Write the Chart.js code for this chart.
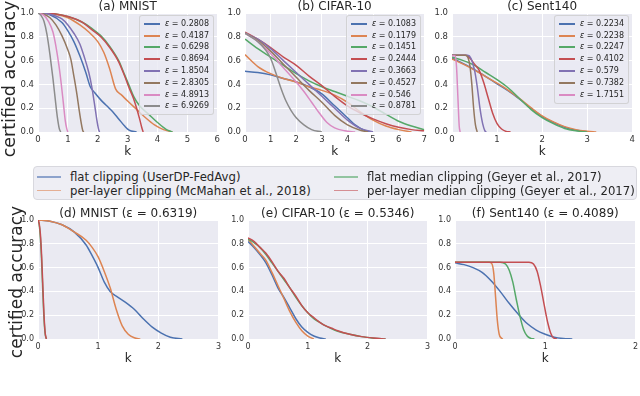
<!DOCTYPE html>
<html>
<head>
<meta charset="utf-8">
<script src="https://cdn.jsdelivr.net/npm/chart.js@4.4.1/dist/chart.umd.min.js"></script>
<style>
html, body { margin: 0; padding: 0; background: #fff; overflow: hidden; }
#fig { position: relative; width: 640px; height: 396px; font-family: 'DejaVu Sans', sans-serif; color: #262626; }
.panel { position: absolute; }
.ylab { position: absolute; z-index: 4; white-space: nowrap; line-height: 1; transform: translate(-50%, -50%) rotate(-90deg); }
.leg { position: absolute; z-index: 5; background: rgba(234,234,242,0.8); border: 1px solid rgba(204,204,204,0.8);
       border-radius: 3px; padding: 2px 4px; font-size: 8px; line-height: 1; }
.leg .row { height: 11.8px; display: flex; align-items: center; white-space: nowrap; }
.leg .sw { width: 16px; height: 2px; margin-right: 5px; flex: none; }
.bigleg { position: absolute; z-index: 5; left: 33px; top: 166px; width: 604px; height: 34px; box-sizing: border-box;
          background: #EEEEF4; border: 1px solid #d8d8de; border-radius: 4px; font-size: 11.7px; }
.bigleg .it { position: absolute; height: 14px; display: flex; align-items: center; white-space: nowrap; }
.bigleg .sw { width: 24px; height: 1.5px; opacity: 0.6; margin-right: 9px; flex: none; }
</style>
</head>
<body>
<div id="fig"></div>
<script>
// tick labels
const accTicks = ['0.0', '0.2', '0.4', '0.6', '0.8', '1.0'];

// (a) MNIST - one curve per epsilon, points are [k, certified accuracy]
const mnistEps = ['0.2808', '0.4187', '0.6298', '0.8694', '1.8504', '2.8305', '4.8913', '6.9269'];
const mnistCurves = [
    [[0,1],[0.4,0.985],[0.8,0.92],[1.0,0.85],[1.2,0.76],[1.4,0.64],[1.6,0.5],[1.75,0.38],[1.9,0.33],[2.1,0.27],[2.3,0.22],[2.5,0.17],[2.7,0.11],[2.9,0.05],[3.05,0.015],[3.3,0]],
    [[0,1],[0.5,0.99],[1.0,0.96],[1.4,0.9],[1.7,0.84],[2.0,0.76],[2.2,0.67],[2.4,0.53],[2.6,0.36],[2.8,0.31],[3.0,0.26],[3.3,0.19],[3.6,0.12],[3.9,0.06],[4.2,0.02],[4.5,0]],
    [[0,1],[0.5,0.995],[1.0,0.97],[1.5,0.92],[1.8,0.87],[2.1,0.81],[2.4,0.72],[2.7,0.6],[2.9,0.48],[3.05,0.39],[3.2,0.3],[3.4,0.22],[3.7,0.15],[4.0,0.08],[4.3,0.02],[4.5,0]],
    [[0,1],[0.5,0.995],[1.0,0.97],[1.5,0.92],[1.8,0.86],[2.1,0.8],[2.4,0.71],[2.7,0.59],[2.9,0.47],[3.05,0.37],[3.2,0.28],[3.3,0.2],[3.4,0.11],[3.47,0.04],[3.52,0]],
    [[0,1],[0.4,0.99],[0.8,0.95],[1.0,0.9],[1.2,0.83],[1.4,0.74],[1.55,0.63],[1.7,0.5],[1.8,0.38],[1.9,0.22],[1.97,0.1],[2.03,0.02],[2.06,0]],
    [[0,1],[0.2,0.99],[0.4,0.96],[0.6,0.9],[0.8,0.81],[1.0,0.69],[1.1,0.61],[1.2,0.47],[1.3,0.32],[1.38,0.18],[1.45,0.07],[1.5,0.01],[1.53,0]],
    [[0,1],[0.2,0.98],[0.35,0.93],[0.5,0.84],[0.6,0.72],[0.7,0.56],[0.78,0.4],[0.85,0.24],[0.91,0.1],[0.96,0.03],[1.0,0]],
    [[0,1],[0.1,0.98],[0.2,0.93],[0.3,0.82],[0.4,0.65],[0.5,0.45],[0.58,0.27],[0.65,0.12],[0.71,0.03],[0.76,0]]
];

// (b) CIFAR-10
const cifarEps = ['0.1083', '0.1179', '0.1451', '0.2444', '0.3663', '0.4527', '0.546', '0.8781'];
const cifarCurves = [
    [[0,0.51],[0.5,0.5],[1,0.48],[1.5,0.45],[2,0.42],[2.5,0.38],[3,0.32],[3.5,0.22],[4,0.12],[4.3,0.06],[4.7,0.01],[5,0]],
    [[0,0.65],[0.5,0.55],[1,0.49],[1.5,0.45],[2,0.42],[2.5,0.38],[3,0.35],[3.5,0.31],[4,0.25],[4.5,0.17],[5,0.1],[5.5,0.05],[6,0.02],[6.5,0]],
    [[0,0.78],[0.5,0.7],[1,0.63],[1.5,0.56],[2,0.49],[2.5,0.43],[3,0.38],[3.5,0.34],[4,0.3],[4.5,0.26],[5,0.21],[5.5,0.15],[6,0.09],[6.5,0.05],[7,0.02]],
    [[0,0.84],[0.5,0.78],[1,0.71],[1.5,0.63],[2,0.56],[2.5,0.47],[3,0.39],[3.5,0.3],[4,0.22],[4.5,0.16],[5,0.11],[5.5,0.07],[6,0.04],[6.5,0.02],[7,0.01]],
    [[0,0.83],[0.5,0.78],[1,0.7],[1.5,0.6],[2,0.5],[2.5,0.4],[3,0.3],[3.5,0.2],[4,0.1],[4.5,0.03],[5,0]],
    [[0,0.83],[0.5,0.77],[1,0.68],[1.5,0.57],[2,0.46],[2.5,0.35],[3,0.25],[3.5,0.14],[4,0.06],[4.5,0.015],[4.8,0]],
    [[0,0.83],[0.5,0.76],[1,0.66],[1.5,0.54],[2,0.42],[2.3,0.34],[2.6,0.25],[2.9,0.16],[3.2,0.08],[3.5,0.035],[3.9,0.01],[4.3,0]],
    [[0,0.83],[0.5,0.76],[0.8,0.69],[1.0,0.62],[1.2,0.5],[1.4,0.37],[1.6,0.26],[1.8,0.18],[2.0,0.12],[2.3,0.06],[2.6,0.02],[3.0,0]]
];

// (c) Sent140
const sentEps = ['0.2234', '0.2238', '0.2247', '0.4102', '0.579', '0.7382', '1.7151'];
const sentCurves = [
    [[0,0.62],[0.25,0.575],[0.5,0.525],[0.75,0.465],[1,0.405],[1.25,0.345],[1.5,0.275],[1.75,0.2],[2,0.13],[2.25,0.08],[2.5,0.04],[2.75,0.015],[3,0.003],[3.1,0]],
    [[0,0.615],[0.25,0.57],[0.5,0.52],[0.75,0.465],[1,0.41],[1.25,0.35],[1.5,0.28],[1.75,0.205],[2,0.135],[2.25,0.085],[2.5,0.045],[2.75,0.02],[3,0.007],[3.2,0]],
    [[0,0.63],[0.25,0.6],[0.5,0.56],[0.75,0.5],[1,0.44],[1.25,0.37],[1.5,0.28],[1.75,0.19],[2,0.12],[2.25,0.07],[2.5,0.03],[2.75,0.01],[3,0]],
    [[0,0.645],[0.3,0.645],[0.4,0.62],[0.5,0.57],[0.6,0.52],[0.7,0.42],[0.8,0.29],[0.9,0.16],[1.0,0.07],[1.1,0.025],[1.2,0.005],[1.3,0]],
    [[0,0.645],[0.35,0.645],[0.42,0.62],[0.5,0.52],[0.56,0.38],[0.62,0.2],[0.68,0.07],[0.73,0.01],[0.76,0]],
    [[0,0.645],[0.3,0.645],[0.36,0.62],[0.4,0.55],[0.44,0.4],[0.48,0.2],[0.52,0.06],[0.56,0]],
    [[0,0.64],[0.07,0.64],[0.1,0.55],[0.13,0.3],[0.16,0.05],[0.18,0]]
];

// bottom row: one curve per clipping method
const methods = ['flat clipping (UserDP-FedAvg)', 'per-layer clipping (McMahan et al., 2018)',
                 'flat median clipping (Geyer et al., 2017)', 'per-layer median clipping (Geyer et al., 2017)'];

// (d) MNIST, eps = 0.6319
const mnistMethodCurves = [
    [[0,1],[0.2,0.99],[0.4,0.96],[0.6,0.9],[0.8,0.79],[0.9,0.7],[1.0,0.6],[1.1,0.48],[1.2,0.4],[1.3,0.36],[1.45,0.31],[1.6,0.25],[1.75,0.17],[1.9,0.1],[2.05,0.05],[2.2,0.015],[2.4,0]],
    [[0,1],[0.2,0.99],[0.4,0.96],[0.6,0.9],[0.8,0.83],[0.9,0.77],[1.0,0.69],[1.1,0.57],[1.2,0.43],[1.3,0.25],[1.4,0.11],[1.5,0.04],[1.6,0.01],[1.7,0]],
    [[0,1],[0.02,0.96],[0.04,0.85],[0.06,0.66],[0.08,0.4],[0.1,0.17],[0.12,0.04],[0.14,0]],
    [[0,1],[0.02,0.97],[0.04,0.88],[0.06,0.7],[0.08,0.45],[0.1,0.2],[0.12,0.05],[0.14,0]]
];

// (e) CIFAR-10, eps = 0.5346
const cifarMethodCurves = [
    [[0,0.82],[0.1,0.77],[0.2,0.71],[0.3,0.64],[0.4,0.54],[0.5,0.43],[0.6,0.35],[0.7,0.26],[0.8,0.17],[0.9,0.1],[1.0,0.055],[1.1,0.025],[1.2,0.008],[1.3,0]],
    [[0,0.84],[0.1,0.78],[0.2,0.72],[0.3,0.66],[0.4,0.56],[0.5,0.45],[0.6,0.34],[0.7,0.23],[0.8,0.14],[0.9,0.07],[1.0,0.025],[1.1,0]],
    [[0,0.84],[0.1,0.81],[0.2,0.77],[0.3,0.71],[0.4,0.64],[0.5,0.57],[0.6,0.5],[0.7,0.43],[0.8,0.35],[0.9,0.28],[1.0,0.22],[1.1,0.17],[1.2,0.14],[1.3,0.11],[1.4,0.085],[1.5,0.065],[1.7,0.04],[1.9,0.02],[2.1,0.007],[2.3,0]],
    [[0,0.85],[0.1,0.82],[0.2,0.77],[0.3,0.72],[0.4,0.65],[0.5,0.57],[0.6,0.51],[0.7,0.43],[0.8,0.36],[0.9,0.28],[1.0,0.22],[1.1,0.18],[1.2,0.14],[1.3,0.11],[1.4,0.09],[1.5,0.07],[1.7,0.04],[1.9,0.02],[2.1,0.008],[2.3,0]]
];

// (f) Sent140, eps = 0.4089
const sentMethodCurves = [
    [[0,0.64],[0.1,0.625],[0.2,0.6],[0.3,0.56],[0.4,0.49],[0.5,0.4],[0.6,0.3],[0.7,0.21],[0.8,0.13],[0.9,0.075],[1.0,0.04],[1.1,0.015],[1.2,0.004],[1.3,0]],
    [[0,0.645],[0.38,0.645],[0.41,0.63],[0.43,0.55],[0.45,0.35],[0.47,0.15],[0.49,0.04],[0.51,0.01],[0.53,0]],
    [[0,0.645],[0.5,0.645],[0.56,0.63],[0.6,0.58],[0.64,0.48],[0.68,0.33],[0.72,0.19],[0.76,0.08],[0.8,0.025],[0.84,0.005],[0.88,0]],
    [[0,0.645],[0.82,0.645],[0.87,0.63],[0.91,0.57],[0.95,0.44],[0.99,0.28],[1.03,0.13],[1.06,0.05],[1.09,0.01],[1.13,0]]
];

// seaborn "deep" palette
const deep = ['#4C72B0', '#DD8452', '#55A868', '#C44E52', '#8172B3', '#937860', '#DA8BC3', '#8C8C8C'];

// Panel layout: plot rect [left, top, right, bottom] in page pixels
const panels = [
    { title: '(a) MNIST', plot: [38, 13, 218, 132], xMax: 6, curves: mnistCurves, eps: mnistEps },
    { title: '(b) CIFAR-10', plot: [245, 13, 425, 132], xMax: 7, curves: cifarCurves, eps: cifarEps },
    { title: '(c) Sent140', plot: [452, 13, 633, 132], xMax: 4, curves: sentCurves, eps: sentEps },
    { title: '(d) MNIST (ε = 0.6319)', plot: [38, 220, 219, 339], xMax: 3, curves: mnistMethodCurves },
    { title: '(e) CIFAR-10 (ε = 0.5346)', plot: [248, 220, 428, 339], xMax: 3, curves: cifarMethodCurves },
    { title: '(f) Sent140 (ε = 0.4089)', plot: [455, 220, 636, 339], xMax: 2, curves: sentMethodCurves }
];

const plotBg = {
    id: 'plotBg',
    beforeDraw(chart) {
        const { ctx, chartArea: a } = chart;
        ctx.save();
        ctx.fillStyle = '#EAEAF2';
        ctx.fillRect(a.left, a.top, a.right - a.left, a.bottom - a.top);
        ctx.restore();
    }
};

Chart.defaults.font.family = "'DejaVu Sans', sans-serif";

function drawPanel(p, row) {
    const fig = document.getElementById('fig');
    const [pl, pt, pr, pb] = p.plot;
    const padL = 30, padR = 5, padB = 26, titleH = 12;
    const canvasTop = row === 0 ? 0 : 200;
    const left = pl - padL;
    const width = pr + padR - left;
    const height = pb + padB - canvasTop;
    const tickSize = row === 0 ? 8.5 : 8;

    const canvas = document.createElement('canvas');
    canvas.className = 'panel';
    canvas.style.left = left + 'px';
    canvas.style.top = canvasTop + 'px';
    canvas.width = width;
    canvas.height = height;
    fig.appendChild(canvas);

    const n = p.curves.length;
    new Chart(canvas, {
        type: 'line',
        data: {
            datasets: p.curves.map((c, i) => ({
                data: c.map(([x, y]) => ({ x, y })),
                borderColor: deep[i],
                borderWidth: 1.5,
                pointRadius: 0,
                fill: false,
                cubicInterpolationMode: 'monotone',
                order: n - i
            }))
        },
        options: {
            responsive: false,
            animation: false,
            events: [],
            devicePixelRatio: 1,
            layout: { padding: { left: 0, right: padR, bottom: 0, top: pt - titleH - canvasTop } },
            plugins: {
                legend: { display: false },
                tooltip: { enabled: false },
                title: {
                    display: true, text: p.title, fullSize: false, color: '#262626',
                    font: { size: 12, weight: 'normal', lineHeight: 1 }, padding: 0
                }
            },
            scales: {
                x: {
                    type: 'linear', min: 0, max: p.xMax,
                    afterFit: s => { s.height = padB; },
                    ticks: { stepSize: 1, font: { size: tickSize }, color: '#333', padding: 3, maxRotation: 0, autoSkip: false },
                    grid: { color: '#fff', lineWidth: 1, drawTicks: false },
                    border: { display: false },
                    title: { display: true, text: 'k', color: '#262626', font: { size: 12, lineHeight: 1 }, padding: 0 }
                },
                y: {
                    min: 0, max: 1,
                    afterFit: s => { s.width = padL; },
                    ticks: { stepSize: 0.2, font: { size: tickSize }, color: '#333', padding: 4,
                             callback: (v, i) => accTicks[i] },
                    grid: { color: '#fff', lineWidth: 1, drawTicks: false },
                    border: { display: false }
                }
            }
        },
        plugins: [plotBg]
    });

    if (p.eps) panelLegend(p);
}

// legend box in the upper right corner of a panel
function panelLegend(p) {
    const box = document.createElement('div');
    box.className = 'leg';
    box.style.right = (640 - (p.plot[2] - 4)) + 'px';
    box.style.top = (p.plot[1] + 2) + 'px';
    box.innerHTML = p.eps.map((e, i) => `
        <div class="row"><span class="sw" style="background:${deep[i]}"></span><span><i>ε</i> = ${e}</span></div>
    `).join('');
    document.getElementById('fig').appendChild(box);
}

// shared legend between the two rows (two columns)
function methodLegend() {
    const box = document.createElement('div');
    box.className = 'bigleg';
    const cols = [3, 300], rows = [10, 23.5];
    box.innerHTML = methods.map((m, i) => {
        const c = Math.floor(i / 2), r = i % 2;
        return `<div class="it" style="left:${cols[c]}px;top:${rows[r] - 7}px">
            <span class="sw" style="background:${deep[i]}"></span><span>${m}</span></div>`;
    }).join('');
    document.getElementById('fig').appendChild(box);
}

// y axis label, one per row
function yLabel(cx, cy, size) {
    const el = document.createElement('div');
    el.className = 'ylab';
    el.style.left = cx + 'px';
    el.style.top = cy + 'px';
    el.style.fontSize = size + 'px';
    el.textContent = 'certified accuracy';
    document.getElementById('fig').appendChild(el);
}

panels.forEach((p, i) => drawPanel(p, i < 3 ? 0 : 1));
yLabel(9.5, 78.5, 17.5);
yLabel(16, 281.5, 17);
methodLegend();
</script>
</body>
</html>
